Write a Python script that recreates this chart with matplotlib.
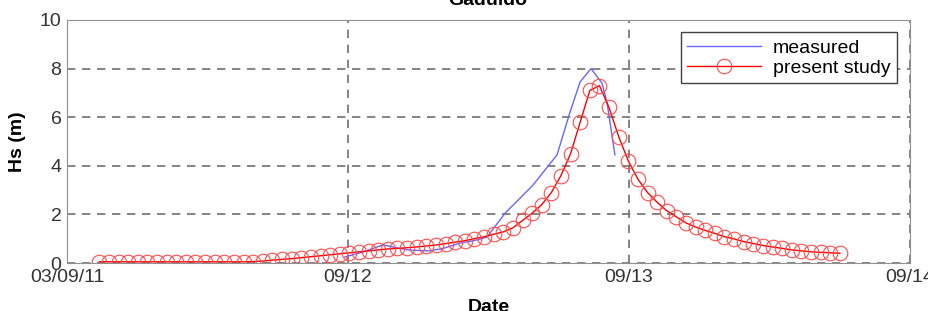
import numpy as np
import matplotlib
matplotlib.use('Agg')
import matplotlib.pyplot as plt

plt.rcParams['font.family'] = ['Liberation Sans', 'DejaVu Sans']

# temps en jours depuis 03/09/11 00h
t0, dt = 0.115, 0.03423  # pas des sorties du modele
hs_model = [0.05, 0.05, 0.05, 0.05, 0.05, 0.05, 0.05, 0.05, 0.05, 0.05,
            0.05, 0.05, 0.05, 0.05, 0.05, 0.05, 0.06, 0.08, 0.12, 0.15,
            0.18, 0.22, 0.26, 0.30, 0.34, 0.38, 0.42, 0.46, 0.50, 0.54,
            0.58, 0.60, 0.63, 0.66, 0.70, 0.74, 0.80, 0.86, 0.92, 1.00,
            1.08, 1.18, 1.28, 1.45, 1.75, 2.05, 2.40, 2.90, 3.60, 4.50,
            5.80, 7.10, 7.30, 6.40, 5.20, 4.20, 3.45, 2.90, 2.50, 2.15,
            1.90, 1.65, 1.48, 1.34, 1.22, 1.08, 0.99, 0.88, 0.80, 0.72,
            0.66, 0.60, 0.54, 0.50, 0.46, 0.44, 0.42, 0.40]
t_model = t0 + dt*np.arange(len(hs_model))

# mesures (bouee)
t_meas = [0.989, 1.053, 1.125, 1.174, 1.221, 1.292, 1.338, 1.399, 1.459, 1.495,
          1.559, 1.658, 1.744, 1.790, 1.826, 1.865, 1.904, 1.922, 1.950]
hs_meas = [0.25, 0.45, 0.75, 0.62, 0.53, 0.50, 0.60, 0.82, 0.95, 1.07,
           2.05, 3.20, 4.45, 6.20, 7.45, 8.00, 7.40, 6.60, 4.45]

xticks = [0, 1, 2, 3]
xlabels = ['03/09/11', '09/12', '09/13', '09/14']

fig = plt.figure(figsize=(9.29, 3.11), dpi=100)
ax = fig.add_axes([0.0721, 0.1543, 0.9074, 0.7814])

ax.plot(t_meas, hs_meas, color=(0.4, 0.4, 1.0), lw=1, label='measured')
ax.plot(t_model, hs_model, color='red', lw=1, marker='o', ms=10.5,
        mfc='none', mec=(1, 0.3, 0.3), mew=0.8, label='present study')

ax.set_xlim(0, 3)
ax.set_ylim(0, 10)
ax.set_xticks(xticks)
ax.set_xticklabels(xlabels)
ax.set_yticks([0, 2, 4, 6, 8, 10])
ax.tick_params(labelsize=14, length=0, pad=4, colors='#333333')
ax.grid(True, color='#707070', linestyle=(0, (5, 4)), lw=1.2)
for s in ax.spines.values():
    s.set_color('#909090')

ax.set_ylabel('Hs (m)', fontsize=14, fontweight='bold', labelpad=10)
ax.set_xlabel('Date', fontsize=14, fontweight='bold', labelpad=10)
fig.text(0.525, 1 - 5/311, 'Gaduido', fontsize=14, fontweight='bold',
         ha='center', va='baseline')

leg = ax.legend(loc='upper right', bbox_to_anchor=(0.985, 0.95), fontsize=14,
                handlelength=3.8, fancybox=False, framealpha=1,
                edgecolor='#404040', borderpad=0.35, labelspacing=0.12,
                borderaxespad=0, handletextpad=0.6)
leg.get_frame().set_linewidth(1)

fig.savefig('out.png', dpi=100)
